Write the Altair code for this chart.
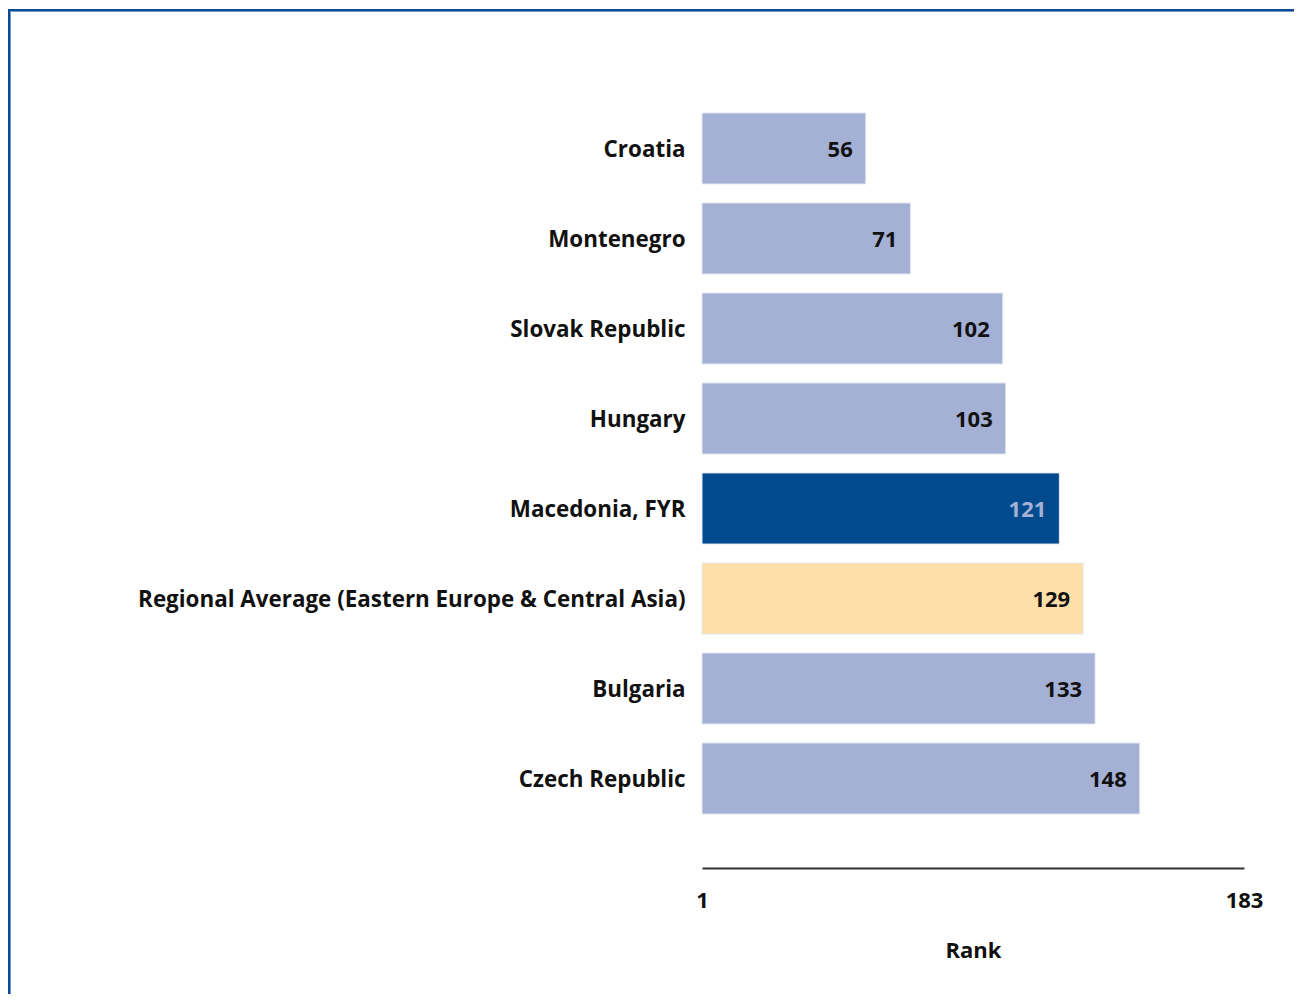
import altair as alt
import pandas as pd

countries = ["Croatia", "Montenegro", "Slovak Republic", "Hungary", "Macedonia, FYR",
             "Regional Average (Eastern Europe & Central Asia)", "Bulgaria", "Czech Republic"]
ranks = [56, 71, 102, 103, 121, 129, 133, 148]
groups = ["other", "other", "other", "other", "focus", "region", "other", "other"]
tick_values = [1, 183]
axis_start = 1

df = pd.DataFrame({"country": countries, "rank": ranks, "group": groups})

FONT = "Open Sans"
color_scale = alt.Scale(domain=["other", "focus", "region"],
                        range=["#a4b0d4", "#004a8d", "#fddfa7"])
label_scale = alt.Scale(domain=["other", "focus", "region"],
                        range=["#111111", "#a4b0d4", "#111111"])

y_enc = alt.Y("country:N", sort=None, title=None,
              scale=alt.Scale(paddingInner=0.21, paddingOuter=0.105),
              axis=alt.Axis(domain=False, ticks=False, labelPadding=17,
                            labelFont=FONT, labelFontSize=22.4, labelFontWeight="bold",
                            labelColor="#111111", labelLimit=700, labelOffset=1.5))
x_enc = alt.X("rank:Q", title="Rank",
              scale=alt.Scale(domain=[1, 183], zero=False, nice=False),
              axis=alt.Axis(values=tick_values, grid=False, ticks=False, offset=44.5,
                            domainColor="#333333", domainWidth=2,
                            labelFont=FONT, labelFontSize=22, labelFontWeight="bold",
                            labelColor="#111111", labelPadding=22, labelFlush=False,
                            titleFont=FONT, titleFontSize=22, titleFontWeight="bold",
                            titleColor="#111111", titlePadding=29))

base = alt.Chart(df)

bars = base.mark_bar(stroke="#e6e9f3", strokeWidth=1).encode(
    y=y_enc, x=x_enc, x2=alt.datum(axis_start),
    color=alt.Color("group:N", scale=color_scale, legend=None),
)

labels = base.mark_text(align="right", baseline="middle", dx=-13, dy=1.5, font=FONT,
                        fontSize=22, fontWeight="bold").encode(
    y=alt.Y("country:N", sort=None),
    x=alt.X("rank:Q"),
    text=alt.Text("rank:Q"),
    color=alt.Color("group:N", scale=label_scale, legend=None),
)

frame_data = alt.Data(values=[{"k": 0}])
frame_top_dark = alt.Chart(frame_data).mark_rule(color="#0d4a95", strokeWidth=2).encode(
    x=alt.value(-694), x2=alt.value(610), y=alt.value(-93.5))
frame_top_light = alt.Chart(frame_data).mark_rule(color="#6f97c8", strokeWidth=1).encode(
    x=alt.value(-692), x2=alt.value(610), y=alt.value(-92))
frame_left_dark = alt.Chart(frame_data).mark_rule(color="#0d4a95", strokeWidth=2).encode(
    x=alt.value(-693), y=alt.value(-94.5), y2=alt.value(920))
frame_left_light = alt.Chart(frame_data).mark_rule(color="#6f97c8", strokeWidth=1).encode(
    x=alt.value(-691.5), y=alt.value(-92.5), y2=alt.value(920))

chart = alt.layer(bars, labels, frame_top_dark, frame_top_light,
                  frame_left_dark, frame_left_light).resolve_scale(color="independent").properties(
    width=542, height=720,
    autosize=alt.AutoSizeParams(type="none"),
    padding={"left": 694, "top": 95.5, "right": 50, "bottom": 170},
).configure(background="white").configure_view(strokeWidth=0, stroke="transparent")

chart.save("out.html", embed_options={"renderer": "svg", "actions": False})
